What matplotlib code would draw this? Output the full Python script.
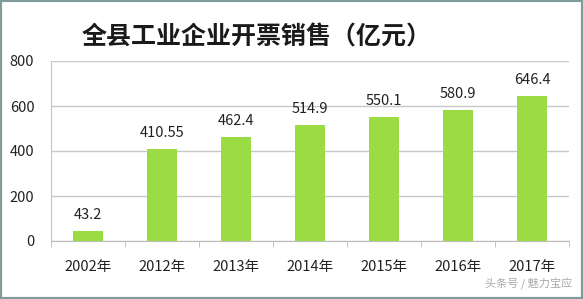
import matplotlib
matplotlib.use("Agg")
import matplotlib.pyplot as plt
from matplotlib.patches import Rectangle

plt.rcParams['font.family'] = ['Noto Sans CJK SC', 'DejaVu Sans']

years = ['2002年', '2012年', '2013年', '2014年', '2015年', '2016年', '2017年']
sales = [43.2, 410.55, 462.4, 514.9, 550.1, 580.9, 646.4]
labels = ['43.2', '410.55', '462.4', '514.9', '550.1', '580.9', '646.4']
yticks = [0, 200, 400, 600, 800]

fig = plt.figure(figsize=(5.83, 2.99), dpi=100)
fig.patch.set_facecolor('white')
ax = fig.add_axes([51 / 583, 1 - 241 / 299, (569 - 51) / 583, 180 / 299])

x = range(len(years))
ax.bar(x, sales, width=0.41, color='#9bdc45', zorder=3)
for i, (v, t) in enumerate(zip(sales, labels)):
    ax.text(i, v + 40, t, ha='center', va='bottom', fontsize=10.5, color='#222222')

ax.set_xlim(-0.5, len(years) - 0.5)
ax.set_ylim(0, 800)
ax.set_yticks(yticks)
ax.set_yticklabels([str(t) for t in yticks], fontsize=10.5, color='#222222')
ax.set_xticks(list(x))
ax.set_xticklabels(years, fontsize=10.5, color='#222222')
ax.tick_params(axis='x', length=0, pad=14)
ax.tick_params(axis='y', length=0, pad=12)
# category boundary ticks
ax.set_xticks([i - 0.5 for i in range(len(years) + 1)], minor=True)
ax.tick_params(axis='x', which='minor', length=4, color='#bbbbbb', direction='out')

ax.grid(axis='y', color='#c8c8c8', linewidth=1, zorder=0)
for s in ['top', 'right']:
    ax.spines[s].set_visible(False)
ax.spines['left'].set_color('#c8c8c8')
ax.spines['bottom'].set_color('#bbbbbb')

fig.text(257 / 583, 1 - 37 / 299, '全县工业企业开票销售（亿元）', ha='center', va='center',
         fontsize=18, fontweight='bold', color='#1a1a1a')
fig.text(572 / 583, 1 - 283 / 299, '头条号 / 魅力宝应', ha='right', va='center',
         fontsize=8, color='#aaaaaa', style='italic')

fig.patches.append(Rectangle((0, 0), 1, 1, transform=fig.transFigure, fill=False,
                             edgecolor='#7f9c9c', linewidth=3))

fig.savefig('out.png', dpi=100)
